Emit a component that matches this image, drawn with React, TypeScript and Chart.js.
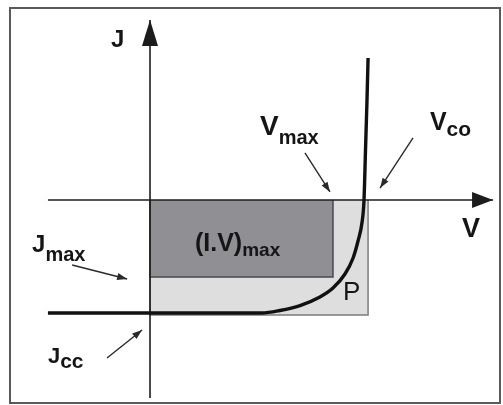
import React, { useEffect, useRef } from 'react';
import { Chart, registerables } from 'chart.js';

Chart.register(...registerables);

// Solar-cell J–V characteristic, normalised units (V / Vco, J / Jcc)
const curveV = [-0.477, 0, 0.523, 0.607, 0.701, 0.794, 0.855, 0.911, 0.949, 0.972, 0.991, 1.0, 1.007, 1.014, 1.019];
const curveJ = [-1.0, -1.0, -1.0, -0.978, -0.934, -0.858, -0.779, -0.655, -0.513, -0.363, -0.195, 0, 0.442, 0.885, 1.257];

// maximum power point (corner of the (I.V)max rectangle)
const vMax = 0.855;
const jMax = -0.681;

// outer Vco × Jcc box
const boxV = 1.019;
const boxJ = -1.018;

// axis extents (start, arrow tip)
const vAxis = [-0.477, 1.603];
const jAxis = [-1.752, 1.593];

// visible window
const viewV = [-0.701, 1.6495];
const viewJ = [-1.8142, 1.7699];

// pointer arrows for the annotations: [from, to] in V/J units
const pointers = [
  { from: [0.724, 0.416], to: [0.841, 0.071] },
  { from: [1.229, 0.549], to: [1.075, 0.106] },
  { from: [-0.364, -0.575], to: [-0.107, -0.699] },
  { from: [-0.201, -1.398], to: [-0.037, -1.15] },
];

type Label = {
  text: string;
  sub?: string;
  at: [number, number];
  size: number;
  subSize?: number;
  subDy?: number;
  weight?: string;
};

const labels: Label[] = [
  { text: 'J', at: [-0.182, 1.354], size: 24 },
  { text: 'V', at: [1.458, -0.327], size: 27 },
  { text: 'V', sub: 'max', at: [0.514, 0.575], size: 28, subSize: 20, subDy: 9 },
  { text: 'V', sub: 'co', at: [1.308, 0.619], size: 25, subSize: 21, subDy: 6 },
  { text: 'J', sub: 'max', at: [-0.551, -0.46], size: 24, subSize: 20, subDy: 9 },
  { text: 'J', sub: 'cc', at: [-0.477, -1.442], size: 22, subSize: 21, subDy: 5 },
  { text: '(I.V)', sub: 'max', at: [0.21, -0.451], size: 25, subSize: 19, subDy: 5 },
  { text: 'P', at: [0.902, -0.885], size: 26, weight: 'normal' },
];

const FONT = '"Liberation Sans", Arial, Helvetica, sans-serif';

const pts = (xs: number[], ys: number[]) => xs.map((x, i) => ({ x, y: ys[i] }));

// arrowheads at the end of flagged datasets, then the text labels
const overlay = {
  id: 'jvOverlay',
  afterDatasetsDraw(chart: any) {
    const { ctx } = chart;
    const sx = chart.scales.x;
    const sy = chart.scales.y;
    ctx.save();
    chart.data.datasets.forEach((ds: any, i: number) => {
      const head = ds.arrowHead;
      if (!head) return;
      const els = chart.getDatasetMeta(i).data;
      const a = els[els.length - 2];
      const b = els[els.length - 1];
      const ang = Math.atan2(b.y - a.y, b.x - a.x);
      ctx.save();
      ctx.translate(b.x, b.y);
      ctx.rotate(ang);
      ctx.beginPath();
      ctx.moveTo(0, 0);
      ctx.lineTo(-head.length, head.width / 2);
      ctx.lineTo(-head.length, -head.width / 2);
      ctx.closePath();
      ctx.fillStyle = ds.borderColor;
      ctx.fill();
      ctx.restore();
    });

    ctx.textBaseline = 'alphabetic';
    ctx.textAlign = 'left';
    labels.forEach((l) => {
      const px = sx.getPixelForValue(l.at[0]);
      const py = sy.getPixelForValue(l.at[1]);
      const w = l.weight || 'bold';
      ctx.fillStyle = '#151515';
      ctx.font = `${w} ${l.size}px ${FONT}`;
      ctx.fillText(l.text, px, py);
      if (l.sub) {
        const tw = ctx.measureText(l.text).width;
        ctx.font = `${w} ${l.subSize}px ${FONT}`;
        ctx.fillText(l.sub, px + tw, py + (l.subDy || 0));
      }
    });
    ctx.restore();
  },
};

export default function App() {
  const canvasRef = useRef<HTMLCanvasElement | null>(null);

  useEffect(() => {
    if (!canvasRef.current) return;
    const chart = new Chart(canvasRef.current, {
      type: 'line',
      data: {
        datasets: [
          {
            label: 'J(V)',
            data: pts(curveV, curveJ),
            borderColor: '#111111',
            borderWidth: 3.4,
            cubicInterpolationMode: 'monotone',
            fill: false,
          },
          {
            label: 'V',
            data: [{ x: vAxis[0], y: 0 }, { x: vAxis[1], y: 0 }],
            borderColor: '#1c1c1c',
            borderWidth: 1.6,
            arrowHead: { length: 21, width: 16 },
          },
          {
            label: 'J',
            data: [{ x: 0, y: jAxis[0] }, { x: 0, y: jAxis[1] }],
            borderColor: '#1c1c1c',
            borderWidth: 1.6,
            arrowHead: { length: 26, width: 16 },
          },
          ...pointers.map((p) => ({
            label: 'pointer',
            data: [{ x: p.from[0], y: p.from[1] }, { x: p.to[0], y: p.to[1] }],
            borderColor: '#2a2a2a',
            borderWidth: 1.4,
            arrowHead: { length: 10, width: 7 },
          })),
          {
            label: '(I.V)max',
            data: [{ x: 0, y: 0 }, { x: 0, y: jMax }, { x: vMax, y: jMax }, { x: vMax, y: 0 }],
            borderColor: '#4a4a4d',
            borderWidth: 1.5,
            backgroundColor: '#8f8f94',
            fill: 'origin',
          },
          {
            label: 'Vco·Jcc',
            data: [{ x: 0, y: 0 }, { x: 0, y: boxJ }, { x: boxV, y: boxJ }, { x: boxV, y: 0 }],
            borderColor: '#7c7c7c',
            borderWidth: 1.5,
            backgroundColor: '#dedede',
            fill: 'origin',
          },
        ] as any,
      },
      options: {
        responsive: false,
        animation: false,
        devicePixelRatio: 1,
        layout: { padding: 0 },
        elements: { point: { radius: 0, hoverRadius: 0 }, line: { tension: 0 } },
        scales: {
          x: { type: 'linear', min: viewV[0], max: viewV[1], display: false },
          y: { type: 'linear', min: viewJ[0], max: viewJ[1], display: false },
        },
        plugins: {
          legend: { display: false },
          tooltip: { enabled: false },
        },
        events: [],
      },
      plugins: [overlay],
    });
    return () => chart.destroy();
  }, []);

  return (
    <div style={{ position: 'absolute', left: 0, top: 0, width: 503, height: 405, background: '#ffffff' }}>
      <div
        style={{
          position: 'absolute',
          left: 9,
          top: 7,
          width: 492,
          height: 397,
          boxSizing: 'border-box',
          border: '2px solid #5a5a5a',
        }}
      />
      <canvas
        ref={canvasRef}
        width={503}
        height={405}
        style={{ position: 'absolute', left: 0, top: 0, display: 'block' }}
      />
    </div>
  );
}
